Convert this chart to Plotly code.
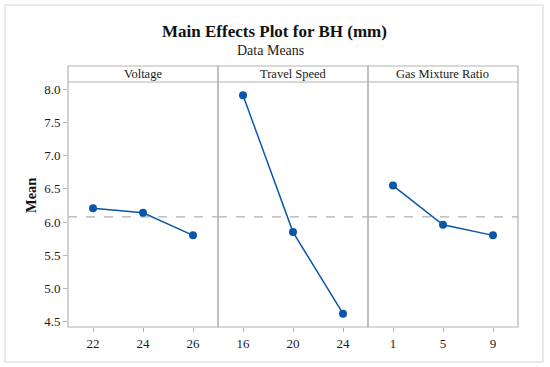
import plotly.graph_objects as go

factors = ["Voltage", "Travel Speed", "Gas Mixture Ratio"]
levels = [[22, 24, 26], [16, 20, 24], [1, 5, 9]]
means = [[6.21, 6.14, 5.80], [7.91, 5.85, 4.62], [6.55, 5.96, 5.80]]
grand_mean = 6.08
y_ticks = [4.5, 5.0, 5.5, 6.0, 6.5, 7.0, 7.5, 8.0]
x_ranges = [[21, 27], [14, 26], [-1, 11]]

W, H = 550, 367
ml, mr, mt, mb = 68, 32, 66, 40
pw = W - ml - mr
ph = H - mt - mb
data_top = (327 - 82) / ph

FONT = "Liberation Serif, Times New Roman, serif"
BLUE = "#0B56A8"
SPINE = "#b4b4b4"

def px_x(x):
    return (x - ml) / pw

def px_y(y):
    return (H - mb - y) / ph

fig = go.Figure()
doms = [[0, 1/3], [1/3, 2/3], [2/3, 1]]
for i in range(3):
    xa = "x" if i == 0 else f"x{i+1}"
    fig.add_trace(go.Scatter(
        x=levels[i], y=means[i], mode="lines+markers",
        line=dict(color=BLUE, width=1.5),
        marker=dict(color=BLUE, size=8),
        xaxis=xa, yaxis="y", showlegend=False, hoverinfo="x+y"))
    key = "xaxis" if i == 0 else f"xaxis{i+1}"
    fig.layout[key] = dict(
        domain=doms[i], range=x_ranges[i], tickvals=levels[i],
        ticktext=[str(v) for v in levels[i]],
        showline=False, showgrid=False, zeroline=False,
        ticks="outside", ticklen=4, tickcolor=SPINE,
        tickfont=dict(family=FONT, size=13, color="#1a1a1a"),
        anchor="y", fixedrange=True, automargin=False)
    fig.add_shape(type="line", xref=xa, yref="y",
                  x0=x_ranges[i][0], x1=x_ranges[i][1],
                  y0=grand_mean, y1=grand_mean,
                  line=dict(color="#b0b0b0", width=1.3, dash="dash"), layer="below")
    fig.add_shape(type="rect", xref="paper", yref="paper",
                  x0=doms[i][0], x1=doms[i][1], y0=0, y1=1,
                  line=dict(color=SPINE, width=1.2))
    fig.add_shape(type="line", xref="paper", yref="paper",
                  x0=doms[i][0], x1=doms[i][1], y0=data_top, y1=data_top,
                  line=dict(color=SPINE, width=1.2))
    fig.add_annotation(text=factors[i], xref="paper", yref="paper",
                       x=(doms[i][0] + doms[i][1]) / 2, y=(data_top + 1) / 2,
                       showarrow=False, xanchor="center", yanchor="middle",
                       font=dict(family=FONT, size=12.5, color="#1a1a1a"))

fig.layout.yaxis = dict(
    domain=[0, data_top], range=[4.42, 8.11], tickvals=y_ticks,
    ticktext=[f"{v:.1f}" for v in y_ticks],
    showgrid=False, zeroline=False, showline=False,
    ticks="outside", ticklen=4, tickcolor=SPINE,
    tickfont=dict(family=FONT, size=13, color="#1a1a1a"),
    fixedrange=True, automargin=False)

fig.add_annotation(text="<b>Mean</b>", xref="paper", yref="paper",
                   x=px_x(31), y=px_y(196), textangle=-90, showarrow=False,
                   xanchor="center", yanchor="middle",
                   font=dict(family=FONT, size=14.5, color="#111"))

fig.add_shape(type="rect", xref="paper", yref="paper",
              x0=px_x(5), x1=px_x(543), y0=px_y(362), y1=px_y(5),
              line=dict(color="#e2e2e2", width=1.5))

fig.add_annotation(text="<b>Main Effects Plot for BH (mm)</b>", xref="paper", yref="paper",
                   x=px_x(274.5), y=px_y(31.5), showarrow=False,
                   xanchor="center", yanchor="middle",
                   font=dict(family=FONT, size=17, color="#111"))
fig.add_annotation(text="Data Means", xref="paper", yref="paper",
                   x=px_x(270), y=px_y(51), showarrow=False,
                   xanchor="center", yanchor="middle",
                   font=dict(family=FONT, size=14, color="#1a1a1a"))

fig.update_layout(width=W, height=H, margin=dict(l=ml, r=mr, t=mt, b=mb, autoexpand=False),
                  paper_bgcolor="white", plot_bgcolor="white")
fig.write_html("out.html", config={"displayModeBar": False},
               post_script="document.body.style.margin='0';document.body.style.padding='0';")
